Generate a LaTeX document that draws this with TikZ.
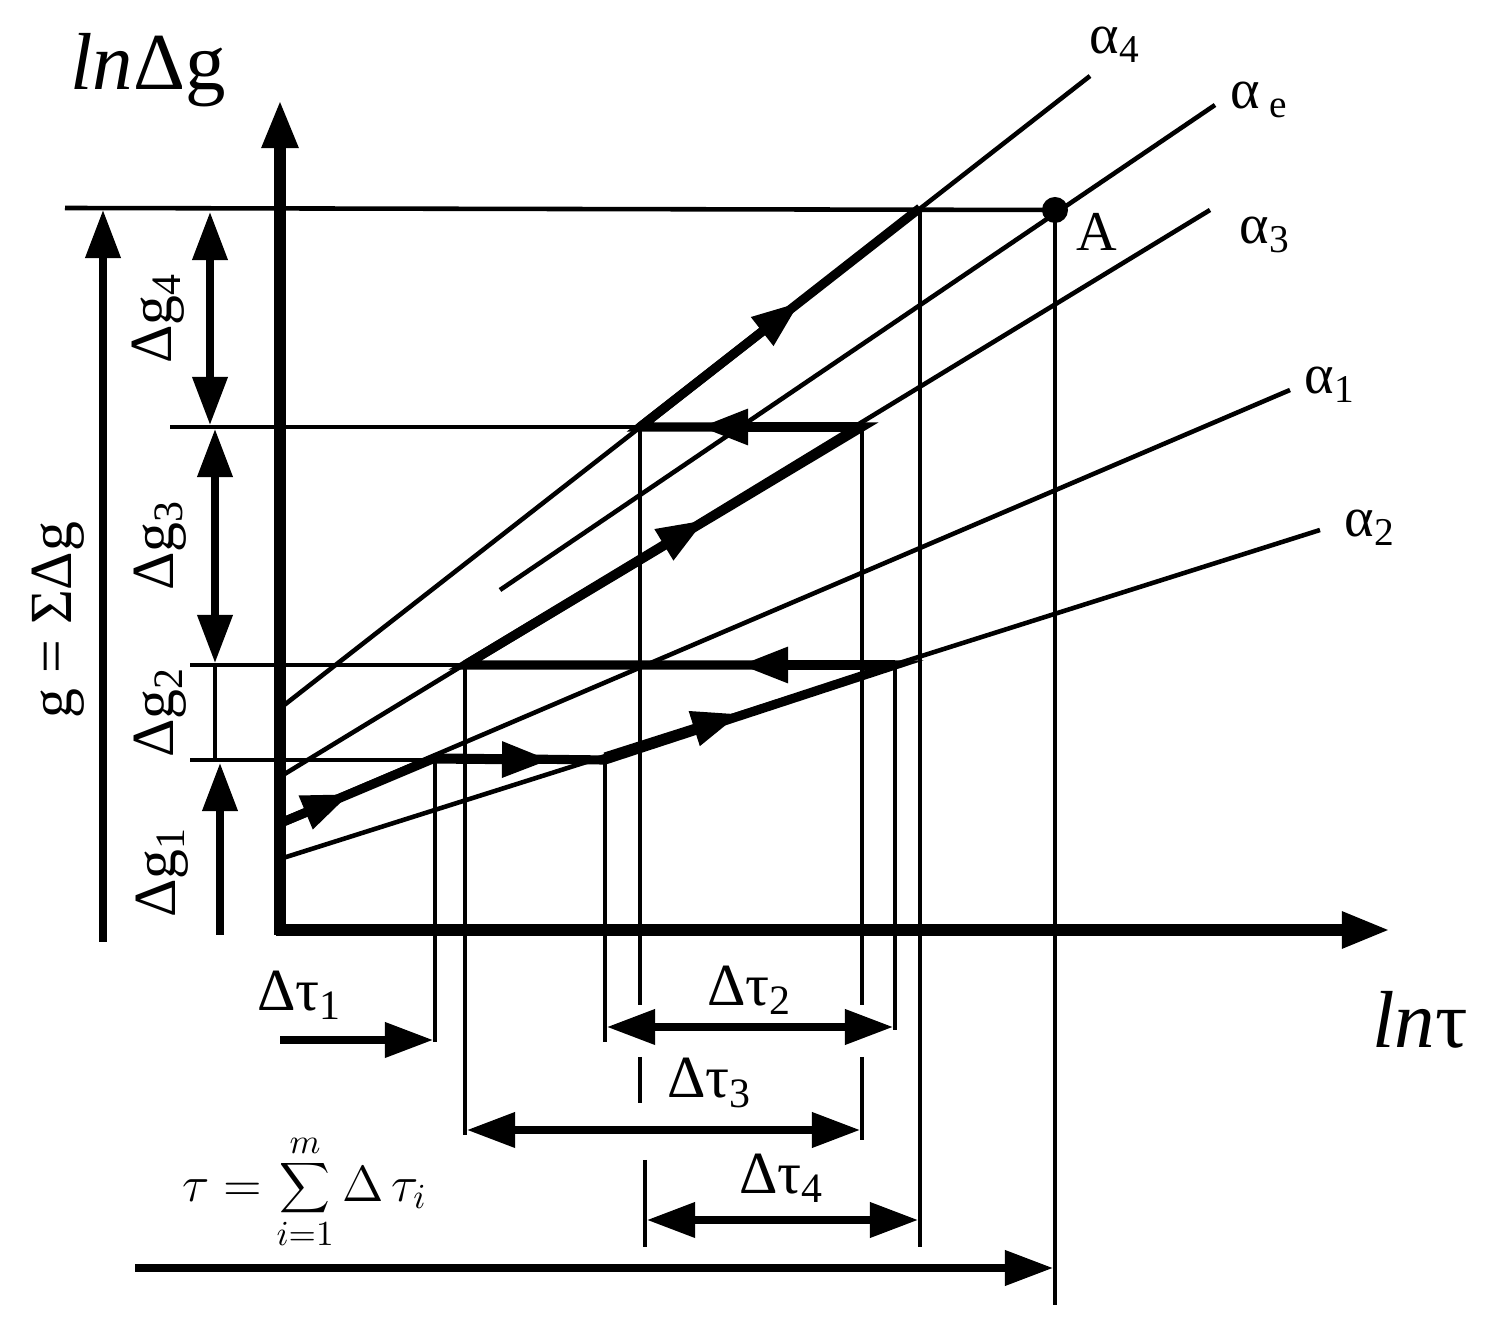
\documentclass[tikz,border=0pt]{standalone}
\usepackage{fontspec}
\setmainfont{Liberation Serif}
\usetikzlibrary{arrows.meta}
\begin{document}
\begin{tikzpicture}[x=0.01cm,y=-0.01cm,
  thin/.style={line width=1.3pt},
  thick/.style={line width=2.6pt},
  tip/.style={-{Triangle[length=0.48cm,width=0.34cm]}},
  dtip/.style={{Triangle[length=0.48cm,width=0.34cm]}-{Triangle[length=0.48cm,width=0.34cm]}},
  lab/.style={font=\fontsize{16}{18}\selectfont, inner sep=0pt},
  dlab/.style={font=\fontsize{17}{19}\selectfont, inner sep=0pt}]
\useasboundingbox (0,0) rectangle (1502,1328);
% key points
\coordinate (O) at (280,930);
\coordinate (A) at (1055,210);
% axes
\draw[line width=3.2pt,tip] (280,935) -- (280,100);
\draw[line width=3.2pt,tip] (276,930) -- (1390,930);
\node[font=\fontsize{23}{25}\selectfont,inner sep=0pt] at (148,70) {\textit{ln}Δg};
\node[font=\fontsize{23}{25}\selectfont,inner sep=0pt] at (1420,1020) {\textit{ln}τ};
% horizontal levels
\draw[thin] (65,208) -- (A);
\draw[thin] (170,427) -- (862,427);
\draw[thin] (190,665) -- (895,665);
\draw[thin] (190,760) -- (605,760);
% alpha lines
\draw[thin] (283,706) -- (1090,76);
\draw[thin] (500,590) -- (1215,105);
\draw[thin] (283,775) -- (1210,210);
\draw[thin] (283,820) -- (1290,390);
\draw[thin] (283,858) -- (1320,530);
\node[lab] at (1115,45) {α\textsubscript{4}};
\node[lab] at (1260,100) {α\,\textsubscript{e}};
\node[lab] at (1265,235) {α\textsubscript{3}};
\node[lab] at (1330,385) {α\textsubscript{1}};
\node[lab] at (1370,528) {α\textsubscript{2}};
\fill (A) circle (13);
\node[lab] at (1097,232) {A};
% thick staircase path with arrows
\draw[thick] (283,822) -- (435,758) -- (605,760) -- (895,665) -- (465,665) -- (862,427) -- (640,427) -- (920,208);
\foreach \a/\b in {{(283,822)}/{(350,794)}, {(435,759)}/{(550,760)}, {(605,757)}/{(740,714)}, {(895,665)}/{(740,665)}, {(465,665)}/{(705,520)}, {(862,427)}/{(700,427)}, {(640,427)}/{(800,302)}}
  \draw[thick,tip] \a -- \b;
% verticals
\draw[thin] (435,760) -- (435,1042);
\draw[thin] (465,665) -- (465,1135);
\draw[thin] (605,760) -- (605,1042);
\draw[thin] (640,427) -- (640,1005);
\draw[thin] (640,1057) -- (640,1103);
\draw[thin] (645,1160) -- (645,1247);
\draw[thin] (862,427) -- (862,1005);
\draw[thin] (862,1057) -- (862,1140);
\draw[thin] (895,665) -- (895,1030);
\draw[thin] (920,208) -- (920,1247);
\draw[thin] (1055,210) -- (1055,1305);
% horizontal dimensions
\draw[line width=2pt,tip] (280,1040) -- (433,1040);
\node[dlab] at (300,995) {Δτ\textsubscript{1}};
\draw[line width=2pt,dtip] (607,1027) -- (893,1027);
\node[dlab] at (750,990) {Δτ\textsubscript{2}};
\draw[line width=2pt,dtip] (467,1130) -- (860,1130);
\node[dlab] at (710,1083) {Δτ\textsubscript{3}};
\draw[line width=2pt,dtip] (647,1220) -- (918,1220);
\node[dlab] at (782,1178) {Δτ\textsubscript{4}};
\draw[line width=2pt,tip] (135,1268) -- (1053,1268);
\node[font=\fontsize{14}{16}\selectfont,inner sep=0pt] at (305,1192) {$\tau=\displaystyle\sum_{i=1}^{m}\Delta\,\tau_i$};
% vertical dimensions
\draw[line width=2pt,tip] (103,942) -- (103,210);
\node[dlab,rotate=90] at (58,620) {g = ΣΔg};
\draw[line width=2pt,dtip] (210,212) -- (210,425);
\draw[line width=2pt,dtip] (215,429) -- (215,663);
\draw[line width=1.3pt] (215,665) -- (215,760);
\draw[line width=2pt,tip] (220,935) -- (220,763);
\node[dlab,rotate=90] at (158,318) {Δg\textsubscript{4}};
\node[dlab,rotate=90] at (160,545) {Δg\textsubscript{3}};
\node[dlab,rotate=90] at (160,712) {Δg\textsubscript{2}};
\node[dlab,rotate=90] at (162,872) {Δg\textsubscript{1}};
\end{tikzpicture}
\end{document}
